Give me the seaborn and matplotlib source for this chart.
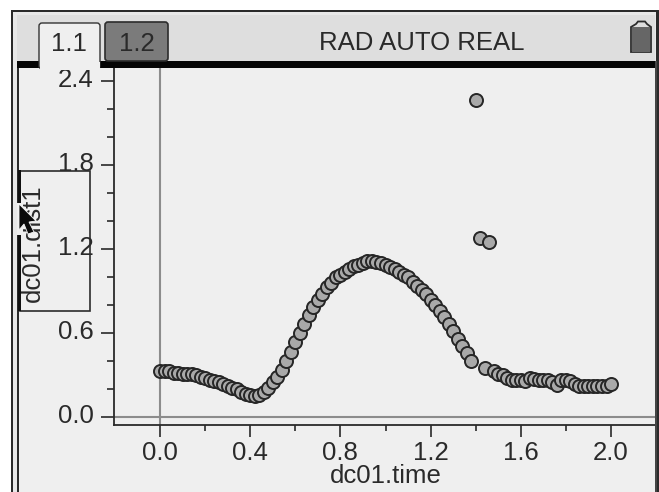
import matplotlib
matplotlib.use('Agg')
import matplotlib.pyplot as plt
from matplotlib.patches import Rectangle, Polygon, FancyBboxPatch
from matplotlib.ticker import MultipleLocator, FixedLocator, FormatStrFormatter
from matplotlib.transforms import Affine2D, ScaledTranslation
import seaborn as sns
import pandas as pd

W, H = 659, 492

# dc01 readings, split in three runs to keep the lines short
time_a = [0.00, 0.02, 0.04, 0.06, 0.08, 0.10, 0.12, 0.14, 0.16, 0.18, 0.20, 0.22, 0.24, 0.26, 0.28, 0.30, 0.32, 0.34,
          0.36, 0.38, 0.40, 0.42, 0.44, 0.46, 0.48, 0.50, 0.52, 0.54, 0.56, 0.58, 0.60, 0.62, 0.64, 0.66]
dist_a = [0.33, 0.33, 0.33, 0.32, 0.32, 0.31, 0.31, 0.31, 0.30, 0.29, 0.285, 0.27, 0.26, 0.25, 0.24, 0.225, 0.21, 0.20,
          0.185, 0.17, 0.16, 0.155, 0.16, 0.18, 0.21, 0.25, 0.29, 0.34, 0.40, 0.47, 0.54, 0.60, 0.67, 0.73]
time_b = [0.68, 0.70, 0.72, 0.74, 0.76, 0.78, 0.80, 0.82, 0.84, 0.86, 0.88, 0.90, 0.92, 0.94, 0.96, 0.98, 1.00, 1.02,
          1.04, 1.06, 1.08, 1.10, 1.12, 1.14, 1.16, 1.18, 1.20, 1.22, 1.24, 1.26, 1.28, 1.30, 1.32, 1.34]
dist_b = [0.79, 0.84, 0.88, 0.93, 0.96, 1.00, 1.02, 1.04, 1.06, 1.08, 1.09, 1.10, 1.115, 1.115, 1.11, 1.10, 1.09, 1.075,
          1.06, 1.04, 1.02, 1.00, 0.97, 0.94, 0.91, 0.88, 0.84, 0.80, 0.76, 0.72, 0.67, 0.62, 0.56, 0.51]
time_c = [1.36, 1.38, 1.40, 1.42, 1.44, 1.46, 1.48, 1.50, 1.52, 1.54, 1.56, 1.58, 1.60, 1.62, 1.64, 1.66, 1.68, 1.70,
          1.72, 1.74, 1.76, 1.78, 1.80, 1.82, 1.84, 1.86, 1.88, 1.90, 1.92, 1.94, 1.96, 1.98, 2.00]
dist_c = [0.46, 0.40, 2.27, 1.28, 0.355, 1.25, 0.33, 0.31, 0.30, 0.28, 0.27, 0.265, 0.265, 0.26, 0.28, 0.275, 0.27, 0.27,
          0.265, 0.255, 0.235, 0.27, 0.265, 0.26, 0.24, 0.225, 0.225, 0.225, 0.225, 0.225, 0.225, 0.225, 0.24]

x_minor_ticks = [0.2, 0.6, 1.0, 1.4, 1.8]
tabs = ['1.1', '1.2']
status = 'RAD AUTO REAL'

df = pd.DataFrame({'dc01.time': time_a + time_b + time_c, 'dc01.dist1': dist_a + dist_b + dist_c})

sns.set_style('ticks')
plt.rcParams['font.family'] = ['Liberation Sans', 'DejaVu Sans']
plt.rcParams['font.size'] = 18.5

INK = '#2a2a2a'
PANEL = '#efefef'
BAR = '#dedede'

fig = plt.figure(figsize=(W / 100, H / 100), dpi=100, facecolor='white')
# pixel coords from the top left of the picture, for the calculator window around the plot
px = Affine2D().scale(1 / W, -1 / H).translate(0, 1) + fig.transFigure


def rect(x, y, w, h, zorder=1, **kw):
    kw.setdefault('lw', 0)
    fig.add_artist(Rectangle((x, y), w, h, transform=px, zorder=zorder, **kw))


# window behind the axes
rect(11, 10, 648, 482, zorder=-5, fc='#2a2a2a')
rect(13, 12, 643, 480, zorder=-5, fc='#e8e8e8')
rect(17, 15, 638, 46, zorder=-5, fc=BAR)
rect(17, 68, 638, 424, zorder=-5, fc=PANEL)
rect(17, 61, 1.5, 431, zorder=-4, fc=INK)

ax = fig.add_axes([114 / W, 1 - 425 / H, (655 - 114) / W, (425 - 68) / H])
ax.patch.set_alpha(0)
ax.axvline(0, color='#8c8c8c', lw=1.5, zorder=1)
ax.axhline(0, color='#8c8c8c', lw=1.5, zorder=1)
sns.scatterplot(data=df, x='dc01.time', y='dc01.dist1', ax=ax, s=88, color='#a9a9a9',
                edgecolor='#262626', linewidth=1.4, zorder=3, clip_on=False)
ax.set_xlim(-0.204, 2.195)
ax.set_ylim(-0.054, 2.496)
ax.xaxis.set_major_locator(MultipleLocator(0.4))
ax.xaxis.set_minor_locator(FixedLocator(x_minor_ticks))
ax.yaxis.set_major_locator(MultipleLocator(0.6))
ax.yaxis.set_minor_locator(MultipleLocator(0.2))
ax.xaxis.set_major_formatter(FormatStrFormatter('%.1f'))
ax.yaxis.set_major_formatter(FormatStrFormatter('%.1f'))
ax.tick_params(axis='x', which='major', length=8.5, width=1.2, color=INK, labelcolor=INK, labelsize=18.5, pad=3)
ax.tick_params(axis='x', which='minor', length=4.5, width=1.2, color=INK)
ax.tick_params(axis='y', which='major', length=9.5, width=1.2, color=INK, labelcolor=INK, labelsize=18.5, pad=5)
ax.tick_params(axis='y', which='minor', length=5, width=1.2, color=INK)
# y tick labels sit a few pixels above their ticks on the calculator
shift_up = ScaledTranslation(0, 3.5 / 100, fig.dpi_scale_trans)
for lab in ax.get_yticklabels():
    lab.set_transform(lab.get_transform() + shift_up)
for side in ['top', 'right']:
    ax.spines[side].set_visible(False)
for side in ['left', 'bottom']:
    ax.spines[side].set_linewidth(1.3)
    ax.spines[side].set_color(INK)
ax.set_xlabel('dc01.time', fontsize=18.5, color=INK)
ax.xaxis.set_label_coords((386 - 114) / 541, (425 - 476) / 357)
ax.xaxis.label.set_verticalalignment('center')
ax.set_ylabel('dc01.dist1', fontsize=18.5, color=INK)
ax.yaxis.set_label_coords((33 - 114) / 541, (425 - 243) / 357)
ax.yaxis.label.set_verticalalignment('center')

# header bar and tabs
rect(17, 61, 639, 7, zorder=5, fc='#050505')
rect(655, 61, 1.5, 431, zorder=5, fc='#444444')
fig.add_artist(FancyBboxPatch((39, 23), 61, 46, boxstyle='round,pad=0,rounding_size=3', transform=px,
                              fc=PANEL, ec='#333333', lw=1, zorder=6))
rect(39.5, 62, 60, 8, zorder=6, fc=PANEL)
fig.add_artist(FancyBboxPatch((105, 22), 63, 39, boxstyle='round,pad=0,rounding_size=3', transform=px,
                              fc='#7b7b7b', ec='#2c2c2c', lw=1.2, zorder=6))
fig.text(69 / W, 1 - 44 / H, tabs[0], ha='center', va='center', color=INK, fontsize=18.5, zorder=7)
fig.text(137 / W, 1 - 44 / H, tabs[1], ha='center', va='center', color=INK, fontsize=18.5, zorder=7)
fig.text(422 / W, 1 - 43.5 / H, status, ha='center', va='center', color=INK, fontsize=18.5, zorder=7)

# battery, with the lighter cap at the top
fig.add_artist(Polygon([(631, 52), (631, 27), (636, 24), (638, 21.5), (645, 21.5), (647, 24), (651, 27), (651, 52)],
                       closed=True, transform=px, fc=BAR, ec='#2c2c2c', lw=1.3, zorder=6))
rect(632, 27, 18, 24.5, zorder=7, fc='#666666')

# variable name box and mouse pointer
rect(19.5, 170.5, 70, 140, zorder=6, fc='none', ec='#2c2c2c', lw=1.2)
rect(18, 170, 3, 141, zorder=6, fc='#111111')
rect(17, 203, 6, 32, zorder=7, fc=PANEL)
fig.add_artist(Polygon([(19, 204), (36, 221), (29, 222), (34, 232), (28, 234), (24, 224), (19, 230)], closed=True,
                       transform=px, fc='#0a0a0a', ec='#f5f5f5', lw=0.6, zorder=8))

fig.savefig('out.png', dpi=100)
